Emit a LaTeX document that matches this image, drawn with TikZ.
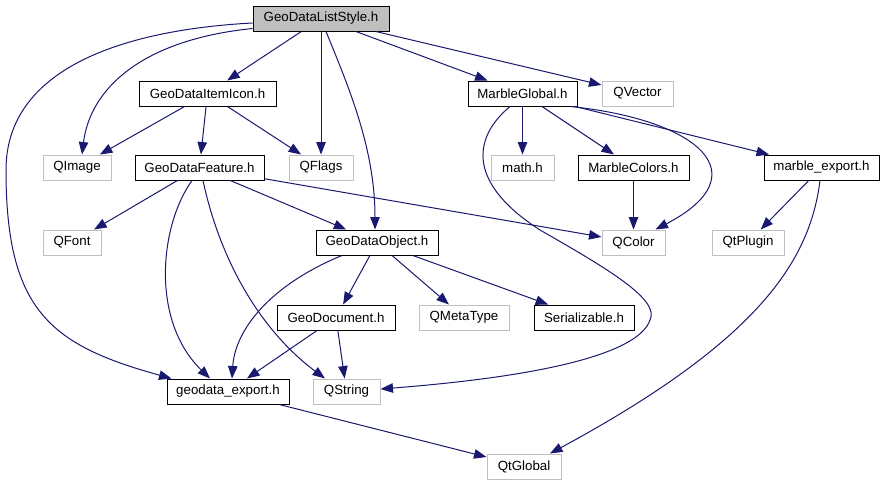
\documentclass[tikz,border=0pt]{standalone}
\usepackage{fontspec}
\setmainfont{Liberation Sans}
\usetikzlibrary{arrows.meta}
\definecolor{edgeblue}{HTML}{191970}
\definecolor{boxgray}{HTML}{BFBFBF}
\begin{document}
\begin{tikzpicture}[x=1pt,y=-1pt,
  box/.style={draw=black, line width=1pt, fill=white, inner sep=0pt,
    font=\fontsize{13.3}{16}\selectfont, minimum height=25pt},
  gbox/.style={box, draw=boxgray},
  edge/.style={draw=edgeblue, line width=1pt, -{Triangle[length=12.5pt,width=9.5pt]}}]
\useasboundingbox[fill=white] (0,0) rectangle (884,485);
% nodes
\node[box, fill=boxgray, minimum width=136pt] (ls) at (321,18.5) {GeoDataListStyle.h};
\node[box, minimum width=137pt] (icon) at (207.5,93.5) {GeoDataItemIcon.h};
\node[gbox, minimum width=68pt] (qimage) at (77,167.5) {QImage};
\node[box, minimum width=129pt] (feature) at (199.5,167.5) {GeoDataFeature.h};
\node[gbox, minimum width=64pt] (qflags) at (321,167.5) {QFlags};
\node[gbox, minimum width=58pt] (qfont) at (72,242.5) {QFont};
\node[box, minimum width=122pt] (object) at (377,242.5) {GeoDataObject.h};
\node[box, minimum width=109pt] (mglobal) at (522.5,93.5) {MarbleGlobal.h};
\node[gbox, minimum width=71pt] (qvector) at (637.5,93.5) {QVector};
\node[gbox, minimum width=63pt] (math) at (522.5,167.5) {math.h};
\node[box, minimum width=111pt] (mcolors) at (633.5,167.5) {MarbleColors.h};
\node[box, minimum width=115pt] (mexport) at (821.5,167.5) {marble\_export.h};
\node[gbox, minimum width=63pt] (qcolor) at (633.5,242.5) {QColor};
\node[gbox, minimum width=72pt] (qtplugin) at (748,242.5) {QtPlugin};
\node[box, minimum width=118pt] (document) at (336,317.5) {GeoDocument.h};
\node[gbox, minimum width=90pt] (qmetatype) at (464,317.5) {QMetaType};
\node[box, minimum width=100pt] (serial) at (584,317.5) {Serializable.h};
\node[box, minimum width=122pt] (gexport) at (228,391.5) {geodata\_export.h};
\node[gbox, minimum width=67pt] (qstring) at (346.5,391.5) {QString};
\node[gbox, minimum width=74pt] (qtglobal) at (524,466.5) {QtGlobal};
% edges from GeoDataListStyle.h
\draw[edge] ([yshift=-4.5]ls.west) .. controls (120,30) and (6,70) .. (6,170)
  .. controls (6,310) and (50,345) .. ([xshift=5]gexport.north west);
\draw[edge] ([yshift=3]ls.south west) .. controls (140,40) and (90,90) .. ([xshift=5]qimage.north);
\draw[edge] (ls) -- (icon);
\draw[edge] (ls) -- (qflags);
\draw[edge] ([xshift=5]ls.south) .. controls (350,90) and (375,150) .. ([xshift=-2]object.north);
\draw[edge] (ls) -- (mglobal);
\draw[edge] (ls) -- (qvector);
% GeoDataItemIcon.h
\draw[edge] (icon) -- (qimage);
\draw[edge] (icon) -- (feature);
\draw[edge] (icon) -- (qflags);
% GeoDataFeature.h
\draw[edge] (feature) -- (qfont);
\draw[edge] ([xshift=-7.5]feature.south) .. controls (160,225) and (150,320) .. ([xshift=-18]gexport.north);
\draw[edge] ([xshift=3.5]feature.south) .. controls (220,260) and (260,330) .. ([xshift=-21.5]qstring.north);
\draw[edge] (feature) -- (object);
\draw[edge] (feature) -- (qcolor);
% GeoDataObject.h
\draw[edge] ([xshift=-35]object.south) .. controls (270,285) and (235,330) .. ([xshift=4]gexport.north);
\draw[edge] (object) -- (document);
\draw[edge] (object) -- (qmetatype);
\draw[edge] (object) -- (serial);
% GeoDocument.h
\draw[edge] (document) -- (gexport);
\draw[edge] (document) -- (qstring);
% geodata_export.h
\draw[edge] (gexport) -- (qtglobal);
% MarbleGlobal.h
\draw[edge] (mglobal) -- (math);
\draw[edge] (mglobal) -- (mcolors);
\draw[edge] ([xshift=-7]mglobal.south east) .. controls (700,120) and (760,175) .. ([xshift=-10]qcolor.north east);
\draw[edge] (mglobal) -- (mexport);
\draw[edge] ([xshift=-12.5]mglobal.south) .. controls (470,140) and (470,185) .. (540,230)
  .. controls (610,270) and (660,300) .. (650,320)
  .. controls (640,350) and (560,375) .. ([yshift=2.5]qstring.east);
% MarbleColors.h
\draw[edge] (mcolors) -- (qcolor);
% marble_export.h
\draw[edge] (mexport) -- (qtplugin);
\draw[edge] ([xshift=-1.5]mexport.south) .. controls (810,260) and (760,340) .. ([xshift=26]qtglobal.north);
\end{tikzpicture}
\end{document}
